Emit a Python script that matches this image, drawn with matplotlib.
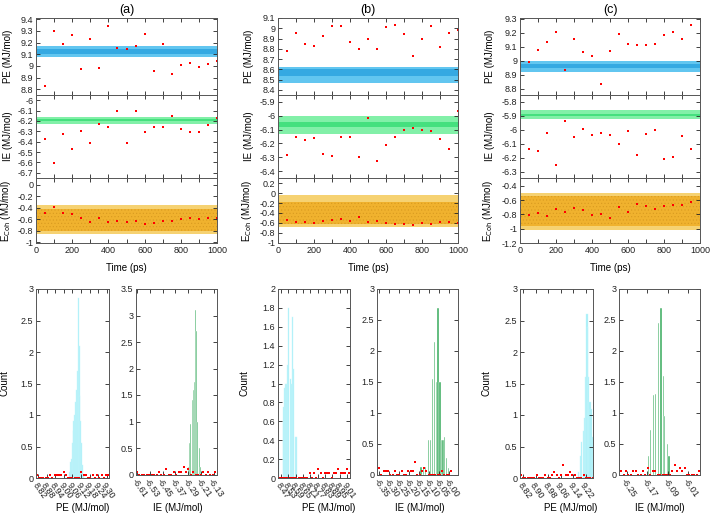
import numpy as np
import matplotlib.pyplot as plt
from matplotlib.ticker import MultipleLocator, FuncFormatter

plt.rcParams['font.family'] = ['Liberation Sans', 'DejaVu Sans']
plt.rcParams['font.size'] = 6.5
plt.rcParams['axes.unicode_minus'] = False
plt.rcParams['hatch.linewidth'] = 0.4

W, H = 713, 515

# ---- time series data (ps, MJ/mol) ----
time_ab = [0, 50, 100, 150, 200, 250, 300, 350, 400, 450, 500,
           550, 600, 650, 700, 750, 800, 850, 900, 950, 1000]
time_c = [0, 50, 100, 150, 200, 250, 300, 350, 400, 450,
          500, 550, 600, 650, 700, 750, 800, 850, 900, 950]

pe_a = [9.017, 8.829, 9.30, 9.187, 9.266, 8.971, 9.232, 8.98, 9.34, 9.156, 9.147,
        9.167, 9.269, 8.957, 9.184, 8.931, 9.008, 9.025, 8.99, 9.017, 9.04]
ie_a = [-6.31, -6.37, -6.61, -6.33, -6.47, -6.30, -6.41, -6.23, -6.26, -6.10, -6.41,
        -6.10, -6.31, -6.26, -6.26, -6.15, -6.28, -6.31, -6.31, -6.24, -6.17]
ecoh_a = [-0.49, -0.48, -0.38, -0.48, -0.51, -0.58, -0.64, -0.58, -0.64, -0.63, -0.645,
          -0.63, -0.675, -0.66, -0.63, -0.635, -0.60, -0.58, -0.60, -0.58, -0.58]

pe_b = [8.994, 8.775, 8.955, 8.843, 8.823, 8.923, 9.026, 9.026, 8.865, 8.80, 8.894,
        8.80, 9.01, 9.03, 8.942, 8.727, 8.894, 9.02, 8.814, 8.958, 8.98]
ie_b = [-6.328, -6.281, -6.154, -6.178, -6.16, -6.279, -6.291, -6.156, -6.154, -6.30, -6.016,
        -6.328, -6.209, -6.154, -6.105, -6.088, -6.103, -6.112, -6.17, -6.243, -5.967]
ecoh_b = [-0.528, -0.54, -0.58, -0.576, -0.60, -0.555, -0.549, -0.515, -0.569, -0.488, -0.576,
          -0.562, -0.60, -0.623, -0.617, -0.637, -0.60, -0.617, -0.576, -0.59, -0.60]

pe_c = [9.11, 8.99, 9.078, 9.137, 9.205, 8.933, 9.153, 9.063, 9.037, 8.833,
        9.068, 9.188, 9.12, 9.113, 9.113, 9.117, 9.181, 9.203, 9.158, 9.257]
ie_c = [-6.121, -6.14, -6.154, -6.019, -6.252, -5.938, -6.054, -5.995, -6.04, -6.019,
        -6.038, -6.102, -6.007, -6.183, -6.028, -6.0, -6.212, -6.195, -6.043, -6.14]
ecoh_c = [-0.768, -0.805, -0.777, -0.824, -0.726, -0.763, -0.707, -0.735, -0.815, -0.791,
          -0.847, -0.693, -0.763, -0.651, -0.679, -0.73, -0.679, -0.675, -0.675, -0.628]

# running mean bands: (outer_lo, outer_hi, inner_lo, inner_hi)
band_pe = {'a': (9.073, 9.173, 9.102, 9.144), 'b': (8.47, 8.624, 8.535, 8.602),
           'c': (8.918, 9.0, 8.95, 8.98)}
band_ie = {'a': (-6.225, -6.165, -6.205, -6.185), 'b': (-6.129, -6.004, -6.08, -6.045),
           'c': (-5.919, -5.859, -5.9, -5.883)}
band_ecoh = {'a': (-0.86, -0.35, -0.80, -0.425), 'b': (-0.685, -0.035, -0.617, -0.17),
             'c': (-1.015, -0.502, -0.968, -0.54)}

# ---- histograms (bin centre, count) ----
hpe_a_x = [9.040, 9.046, 9.052, 9.058, 9.064, 9.070, 9.076, 9.082, 9.088, 9.094,
           9.100, 9.106, 9.112, 9.118, 9.124, 9.130, 9.136]
hpe_a_y = [0.1, 0.25, 0.3, 0.55, 0.75, 0.9, 1.0, 1.2, 1.4, 1.7, 2.85, 2.1, 1.3, 0.9, 0.55, 0.2, 0.05]
hie_a_x = [-6.290, -6.282, -6.274, -6.266, -6.258, -6.250, -6.243, -6.236, -6.229, -6.222, -6.215, -6.208]
hie_a_y = [0.15, 0.6, 0.95, 1.4, 1.6, 1.75, 3.1, 2.7, 1.0, 0.5, 0.15, 0.05]

hpe_b_x = [8.453, 8.488, 8.494, 8.50, 8.508, 8.518, 8.526, 8.535, 8.547, 8.556, 8.565, 8.575, 8.59, 8.60]
hpe_b_y = [0.26, 0.58, 0.75, 0.95, 1.0, 1.0, 1.2, 1.8, 1.05, 1.0, 1.7, 1.15, 0.43, 0.43]
hie_b_x = [-6.140, -6.128, -6.116, -6.104, -6.092, -6.082, -6.072, -6.062, -6.055, -6.045,
           -6.038, -6.030, -6.022, -6.014, -6.004]
hie_b_y = [0.12, 0.12, 0.12, 0.55, 0.55, 1.55, 2.15, 1.5, 2.7, 1.5, 0.55, 0.55, 0.6, 0.27, 0.1]

hpe_c_x = [9.175, 9.185, 9.195, 9.205, 9.213, 9.220, 9.228, 9.233, 9.240, 9.248, 9.255, 9.262]
hpe_c_y = [0.1, 0.35, 0.57, 0.75, 0.95, 1.6, 2.6, 2.4, 1.6, 1.2, 1.1, 0.65]
hie_c_x = [-6.165, -6.158, -6.145, -6.138, -6.126, -6.116, -6.108, -6.102, -6.092, -6.086]
hie_c_y = [0.3, 0.72, 1.28, 1.3, 2.45, 2.7, 1.6, 0.95, 0.5, 0.3]

# red points under the histograms (heights on a regular grid)
red_pe_a = [0.05, 0, 0, 0, 0, 0, 0.05, 0, 0.05, 0.05, 0.05, 0.05, 0.1, 0.05, 0, 0, 0,
            0, 0, 0, 0.1, 0.05, 0.05, 0, 0, 0.05, 0, 0.05, 0, 0.05, 0, 0.05, 0.05]
red_ie_a = [0.05, 0, 0, 0, 0, 0, 0, 0, 0, 0.05, 0, 0, 0.1, 0, 0, 0.05, 0, 0.05, 0.05,
            0.15, 0.05, 0.1, 0, 0.05, 0, 0, 0, 0.05, 0, 0.05, 0, 0, 0.05]
red_pe_b = [0, 0, 0, 0, 0, 0, 0, 0, 0, 0, 0, 0, 0, 0, 0.05, 0, 0.05, 0, 0.1, 0.05, 0,
            0.05, 0.05, 0.05, 0, 0.05, 0.05, 0.1, 0.05, 0.05, 0.05, 0.1, 0.05]
red_ie_b = [0.1, 0, 0.05, 0.05, 0.05, 0, 0, 0.05, 0, 0, 0.05, 0, 0, 0.05, 0.05, 0.05, 0.2,
            0, 0, 0.05, 0.1, 0.05, 0, 0, 0, 0, 0, 0, 0.05, 0, 0, 0, 0.05]
red_pe_c = [0.05, 0, 0, 0, 0, 0, 0, 0.05, 0, 0, 0, 0.05, 0, 0, 0.05, 0.1, 0.05, 0, 0.05,
            0.2, 0.05, 0.05, 0.1, 0.05, 0.05, 0, 0, 0, 0.05, 0, 0, 0, 0]
red_ie_c = [0.05, 0, 0.05, 0, 0, 0.05, 0.05, 0, 0, 0.05, 0, 0.1, 0, 0.05, 0.05, 0, 0, 0,
            0, 0, 0, 0.05, 0.15, 0.05, 0.1, 0.05, 0.1, 0, 0, 0, 0, 0, 0.05]

fig = plt.figure(figsize=(W / 100, H / 100), dpi=100)


def px_axes(l, t, r, b):
    return fig.add_axes([l / W, 1 - b / H, (r - l) / W, (b - t) / H])


def style(ax):
    ax.tick_params(direction='in', length=3, width=0.6, top=True, right=True,
                   which='both', pad=2, labelsize=6.5, colors='#222222')
    for s in ax.spines.values():
        s.set_linewidth(0.7)
        s.set_color('#555555')


fmt = FuncFormatter(lambda v, p: '%g' % round(v, 4))

cols = {'a': (36, 217), 'b': (278, 458), 'c': (520, 700)}
ylab_right = {'a': 13, 'b': 254, 'c': 495}   # right edge of the y labels, px
series = {'a': (time_ab, pe_a, ie_a, ecoh_a),
          'b': (time_ab, pe_b, ie_b, ecoh_b),
          'c': (time_c, pe_c, ie_c, ecoh_c)}
ylims = {'a': [(8.75, 9.41), (-6.75, -5.95), (-1.01, 0.12)],
         'b': [(8.35, 9.1), (-6.45, -5.85), (-1.01, 0.31)],
         'c': [(8.755, 9.305), (-6.345, -5.75), (-1.2, -0.292)]}
ysteps = [0.1, 0.1, 0.2]
rows = [(18, 95), (95, 178), (178, 243)]
labels = ['PE (MJ/mol)', 'IE (MJ/mol)', r'E$_{\mathrm{Coh}}$ (MJ/mol)']
bands = [band_pe, band_ie, band_ecoh]
band_cols = [('#62c6f0', '#35a9e2'), ('#82f0a8', '#45e07e'), ('#f6d272', '#f0b22e')]

for key in ['a', 'b', 'c']:
    l, r = cols[key]
    t = series[key][0]
    for i in range(3):
        ax = px_axes(l, rows[i][0], r, rows[i][1])
        style(ax)
        lo, hi, ilo, ihi = bands[i][key]
        c_out, c_in = band_cols[i]
        ax.fill_between([4, 1000], lo, hi, color=c_out, lw=0)
        ax.fill_between([4, 1000], ilo, ihi, color=c_in, lw=0,
                        hatch='.....' if i == 2 else None, edgecolor='#d89a20' if i == 2 else c_in)
        ax.plot(t, series[key][i + 1], 's', color='red', ms=1.8, mew=0)
        ax.set_xlim(0, 1000)
        ax.set_ylim(*ylims[key][i])
        ax.xaxis.set_major_locator(MultipleLocator(200))
        ax.xaxis.set_minor_locator(MultipleLocator(100))
        ax.yaxis.set_major_locator(MultipleLocator(ysteps[i]))
        ax.yaxis.set_major_formatter(fmt)
        ax.set_ylabel(labels[i], fontsize=7)
        ax.yaxis.set_label_coords(-(l - ylab_right[key]) / (r - l), 0.5)
        if i < 2:
            ax.tick_params(labelbottom=False)
        else:
            ax.set_xlabel('Time (ps)', fontsize=7, labelpad=6)
    fig.text((l + r) / 2 / W, 1 - 10 / H, '(%s)' % key, ha='center', va='center', fontsize=9)

# ---- histogram panels ----
hists = [
    # left, top, right, bottom, xlim, ylim, ystep, xticks, bars_x, bars_y, width, colour,
    # red, red range, xlabel centre
    (36, 289, 109, 478, (8.805, 9.315), (0, 3), 0.5,
     [8.82, 8.88, 8.94, 9.00, 9.06, 9.12, 9.18, 9.24, 9.30], hpe_a_x, hpe_a_y, 0.0062, '#a6eff8',
     red_pe_a, (8.81, 9.31), 'PE (MJ/mol)', 83),
    (136, 289, 217, 474.5, (-6.616, -6.11), (0, 3.5), 0.5,
     [-6.61, -6.53, -6.45, -6.37, -6.29, -6.21, -6.13], hie_a_x, hie_a_y, 0.0062, '#3fae62',
     red_ie_a, (-6.61, -6.12), 'IE (MJ/mol)', 178),
    (278, 289, 350, 478, (8.445, 9.035), (0, 2), 0.2,
     [8.47, 8.53, 8.59, 8.65, 8.71, 8.77, 8.83, 8.89, 8.95, 9.01], hpe_b_x, hpe_b_y, 0.008, '#a6eff8',
     red_pe_b, (8.45, 9.03), 'PE (MJ/mol)', 329),
    (377, 289, 458, 474.5, (-6.36, -5.955), (0, 3), 0.5,
     [-6.35, -6.30, -6.25, -6.20, -6.15, -6.10, -6.05, -6.00], hie_b_x, hie_b_y, 0.0065, '#3fae62',
     red_ie_b, (-6.35, -5.99), 'IE (MJ/mol)', 420),
    (520, 289, 593, 478, (8.80, 9.267), (0, 3), 0.5,
     [8.82, 8.90, 8.98, 9.06, 9.14, 9.22], hpe_c_x, hpe_c_y, 0.0085, '#a6eff8',
     red_pe_c, (8.805, 9.265), 'PE (MJ/mol)', 571),
    (619, 289, 700, 474.5, (-6.28, -5.965), (0, 3), 0.5,
     [-6.25, -6.17, -6.09, -6.01], hie_c_x, hie_c_y, 0.0055, '#3fae62',
     red_ie_c, (-6.272, -5.968), 'IE (MJ/mol)', 660),
]
count_right = {0: 10, 2: 250, 4: 492}

for n, (l, t, r, b, xl, yl, ys, xt, bx, by, bw, bc, red, rr, xlab, xc) in enumerate(hists):
    ax = px_axes(l, t, r, b)
    style(ax)
    ax.bar(bx, by, width=bw, color=bc, lw=0.3, edgecolor='white' if bc == '#3fae62' else '#c8f6fb')
    ax.plot(np.linspace(rr[0], rr[1], len(red)), red, 's', color='red', ms=1.9, mew=0, clip_on=False)
    ax.set_xlim(*xl)
    ax.set_ylim(*yl)
    ax.set_xticks(xt)
    ax.set_xticklabels(['%.2f' % v for v in xt], rotation=-55, ha='left', va='top',
                       rotation_mode='anchor', fontsize=6.5)
    ax.yaxis.set_major_locator(MultipleLocator(ys))
    ax.yaxis.set_major_formatter(fmt)
    fig.text(xc / W, 1 - 508 / H, xlab, ha='center', va='center', fontsize=7)
    if n % 2 == 0:
        ax.set_ylabel('Count', fontsize=7)
        ax.yaxis.set_label_coords(-(l - count_right[n]) / (r - l), 0.5)

fig.savefig('out.png', dpi=100)
